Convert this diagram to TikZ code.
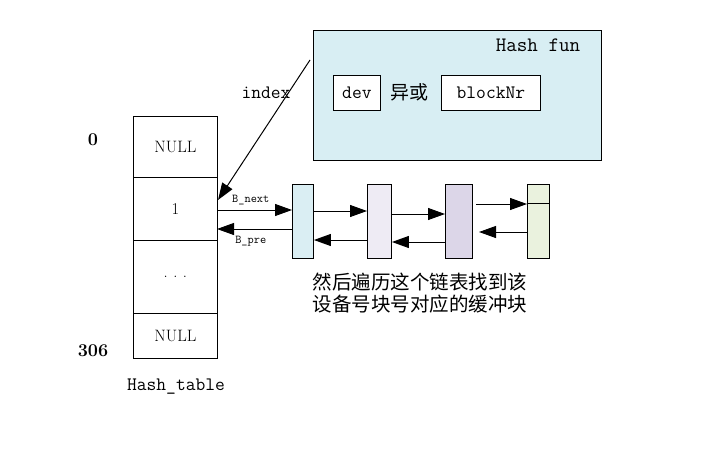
\documentclass[tikz,border=0pt]{standalone}
\usepackage{fontspec}
\newfontfamily\cjk{Noto Sans CJK SC}
\usetikzlibrary{arrows.meta}
\definecolor{hfc}{HTML}{D8EEF3}
\definecolor{c1}{HTML}{DAEEF3}
\definecolor{c2}{HTML}{EEEBF4}
\definecolor{c3}{HTML}{DCD6E8}
\definecolor{c4}{HTML}{EAF2DE}
\begin{document}
\begin{tikzpicture}[x=1pt,y=-1pt,
  cell/.style={draw,line width=0.8pt,minimum width=84pt,inner sep=0pt,font=\fontsize{16.5}{18}\selectfont},
  blk/.style={draw,line width=0.9pt,inner sep=0pt},
  arr/.style={-{Triangle[length=17pt,width=12pt]},line width=1pt},
  tt/.style={font=\ttfamily\fontsize{19}{21}\selectfont},
  small/.style={font=\ttfamily\fontsize{12}{13}\selectfont}]
\useasboundingbox (0,0) rectangle (727,455);
% table
\node[cell,minimum height=61pt,anchor=north west] (r0) at (133,116) {NULL};
\node[cell,minimum height=63pt,anchor=north west] (r1) at (133,177) {1};
\node[cell,minimum height=73pt,anchor=north west] (r2) at (133,240) {.\,\,.\,\,.};
\node[cell,minimum height=45pt,anchor=north west] (r3) at (133,313) {NULL};
\node[font=\bfseries\fontsize{18}{20}\selectfont] (l0) at (93,140) {0};
\node[font=\bfseries\fontsize{18}{20}\selectfont] (l306) at (93,351) {306};
\node[tt] (ht) at (176,387) {Hash\_table};
% hash fun
\node[draw,line width=0.8pt,fill=hfc,minimum width=288pt,minimum height=130pt,anchor=north west,inner sep=0pt] (hf) at (313,30) {};
\node[font=\ttfamily\fontsize{20.5}{22}\selectfont] (hft) at (538,45) {Hash fun};
\node[draw,fill=white,line width=0.8pt,minimum width=47pt,minimum height=35pt,tt,inner sep=0pt,anchor=north west] (dev) at (333,75) {dev};
\node[font=\cjk\fontsize{19}{21}\selectfont] (xor) at (409,92) {异或};
\node[draw,fill=white,line width=0.8pt,minimum width=99pt,minimum height=35pt,tt,inner sep=0pt,anchor=north west] (bn) at (441,75) {blockNr};
\node[tt] (idx) at (266,93) {index};
\coordinate (hs) at (310,60);
\draw[arr] (hs) -- (218,200);
% blocks
\node[blk,fill=c1,minimum width=21pt,minimum height=74pt,anchor=north west] (b1) at (292,184) {};
\node[blk,fill=c2,minimum width=24pt,minimum height=74pt,anchor=north west] (b2) at (367,184) {};
\node[blk,fill=c3,minimum width=27pt,minimum height=74pt,anchor=north west] (b3) at (445,184) {};
\node[blk,fill=c4,minimum width=22pt,minimum height=74pt,anchor=north west] (b4) at (527,184) {};
\draw[line width=0.8pt] (527,203) -- (549,203);
\draw[arr] (217,210) -- (b1.west |- 0,210) node[pos=0.45,above=1pt,small] {B\_next};
\draw[arr] (b1.west |- 0,229) -- (217,229) node[pos=0.55,below=3pt,small] {B\_pre};
\draw[arr] (b1.east |- 0,211) -- (b2.west |- 0,211);
\draw[arr] (b2.east |- 0,214) -- (b3.west |- 0,214);
\draw[arr] (476,204) -- (b4.west |- 0,204);
\draw[arr] (b2.west |- 0,240) -- (b1.east |- 0,240);
\draw[arr] (b3.west |- 0,242) -- (b2.east |- 0,242);
\draw[arr] (b4.west |- 0,232) -- (479,232);
\node[font=\cjk\fontsize{19.5}{22}\selectfont,align=left] (txt) at (420,293) {然后遍历这个链表找到该\\设备号块号对应的缓冲块};
\end{tikzpicture}
\end{document}
